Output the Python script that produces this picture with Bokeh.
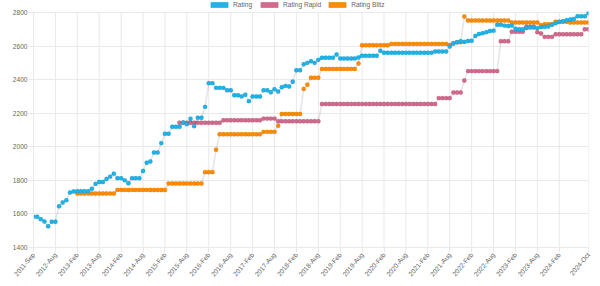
import math
import numpy as np
from bokeh.plotting import figure
from bokeh.models import (ColumnDataSource, FixedTicker, Legend, LegendItem, Range1d)
from bokeh.embed import file_html
from bokeh.resources import INLINE

NA = float("nan")

# Rating periods (bi-monthly lists until mid-2012, monthly afterwards)
periods = [
    "2011-Sep", "2011-Nov", "2012-Jan", "2012-Mar", "2012-May", "2012-Jul",
    "2012-Aug", "2012-Sep", "2012-Oct", "2012-Nov", "2012-Dec",
    "2013-Jan", "2013-Feb", "2013-Mar", "2013-Apr", "2013-May", "2013-Jun",
    "2013-Jul", "2013-Aug", "2013-Sep", "2013-Oct", "2013-Nov", "2013-Dec",
    "2014-Jan", "2014-Feb", "2014-Mar", "2014-Apr", "2014-May", "2014-Jun",
    "2014-Jul", "2014-Aug", "2014-Sep", "2014-Oct", "2014-Nov", "2014-Dec",
    "2015-Jan", "2015-Feb", "2015-Mar", "2015-Apr", "2015-May", "2015-Jun",
    "2015-Jul", "2015-Aug", "2015-Sep", "2015-Oct", "2015-Nov", "2015-Dec",
    "2016-Jan", "2016-Feb", "2016-Mar", "2016-Apr", "2016-May", "2016-Jun",
    "2016-Jul", "2016-Aug", "2016-Sep", "2016-Oct", "2016-Nov", "2016-Dec",
    "2017-Jan", "2017-Feb", "2017-Mar", "2017-Apr", "2017-May", "2017-Jun",
    "2017-Jul", "2017-Aug", "2017-Sep", "2017-Oct", "2017-Nov", "2017-Dec",
    "2018-Jan", "2018-Feb", "2018-Mar", "2018-Apr", "2018-May", "2018-Jun",
    "2018-Jul", "2018-Aug", "2018-Sep", "2018-Oct", "2018-Nov", "2018-Dec",
    "2019-Jan", "2019-Feb", "2019-Mar", "2019-Apr", "2019-May", "2019-Jun",
    "2019-Jul", "2019-Aug", "2019-Sep", "2019-Oct", "2019-Nov", "2019-Dec",
    "2020-Jan", "2020-Feb", "2020-Mar", "2020-Apr", "2020-May", "2020-Jun",
    "2020-Jul", "2020-Aug", "2020-Sep", "2020-Oct", "2020-Nov", "2020-Dec",
    "2021-Jan", "2021-Feb", "2021-Mar", "2021-Apr", "2021-May", "2021-Jun",
    "2021-Jul", "2021-Aug", "2021-Sep", "2021-Oct", "2021-Nov", "2021-Dec",
    "2022-Jan", "2022-Feb", "2022-Mar", "2022-Apr", "2022-May", "2022-Jun",
    "2022-Jul", "2022-Aug", "2022-Sep", "2022-Oct", "2022-Nov", "2022-Dec",
    "2023-Jan", "2023-Feb", "2023-Mar", "2023-Apr", "2023-May", "2023-Jun",
    "2023-Jul", "2023-Aug", "2023-Sep", "2023-Oct", "2023-Nov", "2023-Dec",
    "2024-Jan", "2024-Feb", "2024-Mar", "2024-Apr", "2024-May", "2024-Jun",
    "2024-Jul", "2024-Aug", "2024-Sep", "2024-Oct",
]

# Standard rating
rating = [
    1583, 1583, 1569, 1555, 1527, 1553, 1553, 1646, 1668, 1682,
    1728, 1734, 1736, 1736, 1736, 1736, 1750, 1779, 1790, 1790,
    1808, 1822, 1840, 1813, 1813, 1800, 1783, 1813, 1813, 1813,
    1856, 1905, 1912, 1966, 1966, 2022, 2078, 2078, 2119, 2119,
    2119, 2145, 2135, 2167, 2123, 2173, 2173, 2238, 2379, 2379,
    2351, 2351, 2351, 2337, 2337, 2307, 2307, 2300, 2310, 2272,
    2300, 2300, 2300, 2337, 2337, 2325, 2343, 2329, 2355, 2363,
    2359, 2387, 2456, 2456, 2492, 2500, 2510, 2500, 2518, 2530,
    2530, 2530, 2530, 2550, 2526, 2526, 2526, 2526, 2526, 2532,
    2542, 2542, 2542, 2542, 2542, 2572, 2560, 2560, 2560, 2560,
    2560, 2560, 2560, 2560, 2560, 2560, 2560, 2560, 2560, 2560,
    2568, 2568, 2568, 2568, 2597, 2615, 2623, 2629, 2625, 2630,
    2632, 2660, 2672, 2677, 2683, 2690, 2692, 2727, 2727, 2722,
    2720, 2722, 2703, 2700, 2700, 2707, 2711, 2711, 2707, 2713,
    2715, 2717, 2727, 2736, 2744, 2748, 2754, 2758, 2762, 2778,
    2778, 2778, 2795,
]

# Rapid rating
rapid = (
    [NA] * 40
    + [2143] * 12 + [2158] * 11 + [2168] * 4 + [2152] * 12
    + [2255] * 32 + [2290] * 4 + [2323] * 3 + [2395]
    + [2451] * 9 + [2629] * 3 + [2685] * 4 + [2715] * 3
    + [2683, 2675] + [2655] * 3 + [2670] * 8 + [2700] * 2
)

# Blitz rating
blitz = (
    [NA] * 12
    + [1722] * 11 + [1743] * 14 + [1781] * 10 + [1849] * 3 + [1982]
    + [2075] * 12 + [2089] * 4 + [2125] + [2195] * 6
    + [2345, 2370] + [2411] * 3 + [2464] * 10 + [2496]
    + [2605] * 8 + [2613] * 16 + [2607, 2617, 2623, 2623, 2776]
    + [2752] * 12 + [2740] * 8 + [2725] + [2730] * 3
    + [2745] * 4 + [2740] * 6
)

shown_ticks = [
    "2011-Sep", "2012-Aug", "2013-Feb", "2013-Aug", "2014-Feb", "2014-Aug",
    "2015-Feb", "2015-Aug", "2016-Feb", "2016-Aug", "2017-Feb", "2017-Aug",
    "2018-Feb", "2018-Aug", "2019-Feb", "2019-Aug", "2020-Feb", "2020-Aug",
    "2021-Feb", "2021-Aug", "2022-Feb", "2022-Aug", "2023-Feb", "2023-Aug",
    "2024-Feb", "2024-Oct",
]
y_ticks = [1400, 1600, 1800, 2000, 2200, 2400, 2600, 2800]
Y_MIN, Y_MAX = 1400, 2800

series = [
    ("Rating", rating, "#1fb4e9"),
    ("Rating Rapid", rapid, "#d3698e"),
    ("Rating Blitz", blitz, "#ff8c00"),
]

FONT = "Liberation Sans"
GRID = "#e9e9e9"
TEXT = "#666666"

# plot area spans 1400..2800 over 235 px; 12 px strip above it holds the legend
PLOT_H, LEGEND_STRIP = 235, 12
FRAME_W = 555
FRAME_H = PLOT_H + LEGEND_STRIP
y_top = Y_MAX + LEGEND_STRIP * (Y_MAX - Y_MIN) / PLOT_H

p = figure(
    frame_width=FRAME_W, frame_height=FRAME_H,
    min_border_left=33, min_border_right=12,
    min_border_top=0, min_border_bottom=39,
    x_range=Range1d(0, len(periods) - 1), y_range=Range1d(Y_MIN, y_top),
    output_backend="svg", toolbar_location=None,
)
p.outline_line_color = None
p.background_fill_color = "white"
p.border_fill_color = "white"

x = np.arange(len(periods))
tick_idx = [periods.index(t) for t in shown_ticks]

# vertical grid lines limited to the value range
p.xgrid.visible = False
p.segment(x0=tick_idx, x1=tick_idx, y0=[Y_MIN] * len(tick_idx),
          y1=[Y_MAX] * len(tick_idx), line_color=GRID, line_width=1)

# first dataset is drawn on top, so render in reverse order
for name, vals, color in reversed(series):
    src = ColumnDataSource(dict(x=x, y=np.array(vals, dtype=float)))
    p.line("x", "y", source=src, line_color="black", line_alpha=0.1, line_width=1.6)
    p.scatter("x", "y", source=src, size=4.4, fill_color=color,
              line_color="black", line_alpha=0.12, line_width=0.6)

# x axis: category labels, thinned to every sixth period plus the last one
p.xaxis.ticker = FixedTicker(ticks=tick_idx)
p.xaxis.major_label_overrides = {i: periods[i] for i in tick_idx}
p.xaxis.major_label_orientation = math.radians(50)
p.yaxis.ticker = FixedTicker(ticks=y_ticks)
p.yaxis.bounds = (Y_MIN, Y_MAX)

for ax in (p.xaxis[0], p.yaxis[0]):
    ax.axis_line_color = GRID
    ax.major_tick_line_color = GRID
    ax.major_tick_out = 5
    ax.major_tick_in = 0
    ax.minor_tick_line_color = None
    ax.major_label_text_font = FONT
    ax.major_label_text_font_size = "6.6px"
    ax.major_label_text_color = TEXT
    ax.major_label_standoff = 1

p.ygrid.grid_line_color = GRID

# legend swatches: placeholder quads (one undrawable NaN row) carrying the fill styles
items = []
for name, vals, color in series:
    box_src = ColumnDataSource(dict(l=[NA], r=[NA], t=[NA], b=[NA]))
    r = p.quad(left="l", right="r", top="t", bottom="b", source=box_src,
               fill_color=color, line_color="black", line_alpha=0.1, line_width=0.6)
    items.append(LegendItem(label=name, renderers=[r], index=0))

legend = Legend(
    items=items, orientation="horizontal", location=(175, FRAME_H - 8),
    glyph_width=22, glyph_height=7, label_height=7, label_standoff=3,
    spacing=5, padding=0, margin=0,
    border_line_alpha=0, background_fill_alpha=0,
    label_text_font=FONT, label_text_font_size="6.6px",
    label_text_color=TEXT, label_text_baseline="middle",
)
p.add_layout(legend, "center")

open("out.html", "w").write(file_html(p, INLINE))
